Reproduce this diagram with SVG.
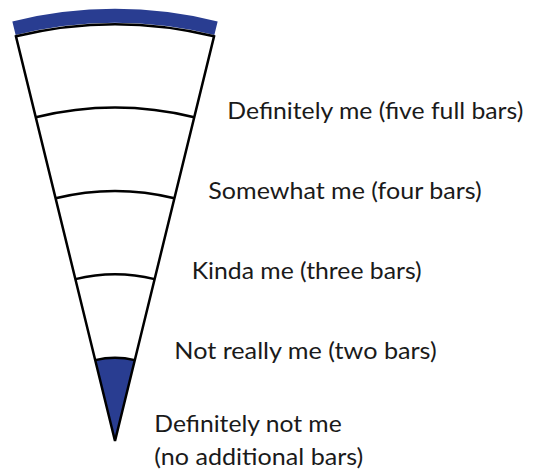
<svg xmlns="http://www.w3.org/2000/svg" width="538" height="475" viewBox="0 0 538 475">
<style>
.line{fill:none;stroke:#000;stroke-width:2.5;stroke-linejoin:miter}
.blue{fill:#293d91}
.lbl{font-family:Lato,"Liberation Sans",sans-serif;font-size:24px;fill:#1a1a1a}
</style>
<rect width="538" height="475" fill="#fff"/>
<g id="wedge">
<path id="top-band" d="M 14,28.2 A 425 425 0 0 1 216,28.2" fill="none" stroke="#293d91" stroke-width="14"/>
<path id="bottom-bar" class="blue" d="M 95.2,360.1 A 83.3 83.3 0 0 1 134.8,360.1 L 115,441 Z"/>
<path id="outline" class="line" d="M 15.95,36.3 A 416.7 416.7 0 0 1 214.05,36.3 L 115,441 Z"/>
</g>
<g id="connectors">
<path class="line" d="M 35.8,117.2 A 333.3 333.3 0 0 1 194.2,117.2"/>
<path class="line" d="M 55.6,198.2 A 250 250 0 0 1 174.4,198.2"/>
<path class="line" d="M 75.4,279.1 A 166.7 166.7 0 0 1 154.6,279.1"/>
<path class="line" d="M 95.2,360.1 A 83.3 83.3 0 0 1 134.8,360.1"/>
</g>
<g id="label-five">
<text class="lbl" x="227.3" y="119.3" textLength="296" lengthAdjust="spacingAndGlyphs">Definitely me (five full bars)</text>
</g>
<g id="label-four">
<text class="lbl" x="208.3" y="199" textLength="273.4" lengthAdjust="spacingAndGlyphs">Somewhat me (four bars)</text>
</g>
<g id="label-three">
<text class="lbl" x="191.7" y="279" textLength="230" lengthAdjust="spacingAndGlyphs">Kinda me (three bars)</text>
</g>
<g id="label-two">
<text class="lbl" x="174.3" y="359.3" textLength="262.4" lengthAdjust="spacingAndGlyphs">Not really me (two bars)</text>
</g>
<g id="label-none">
<text class="lbl" x="154.3" y="431.7" textLength="187.4" lengthAdjust="spacingAndGlyphs">Definitely not me</text>
<text class="lbl" x="154.3" y="464.5" textLength="209" lengthAdjust="spacingAndGlyphs">(no additional bars)</text>
</g>
</svg>
